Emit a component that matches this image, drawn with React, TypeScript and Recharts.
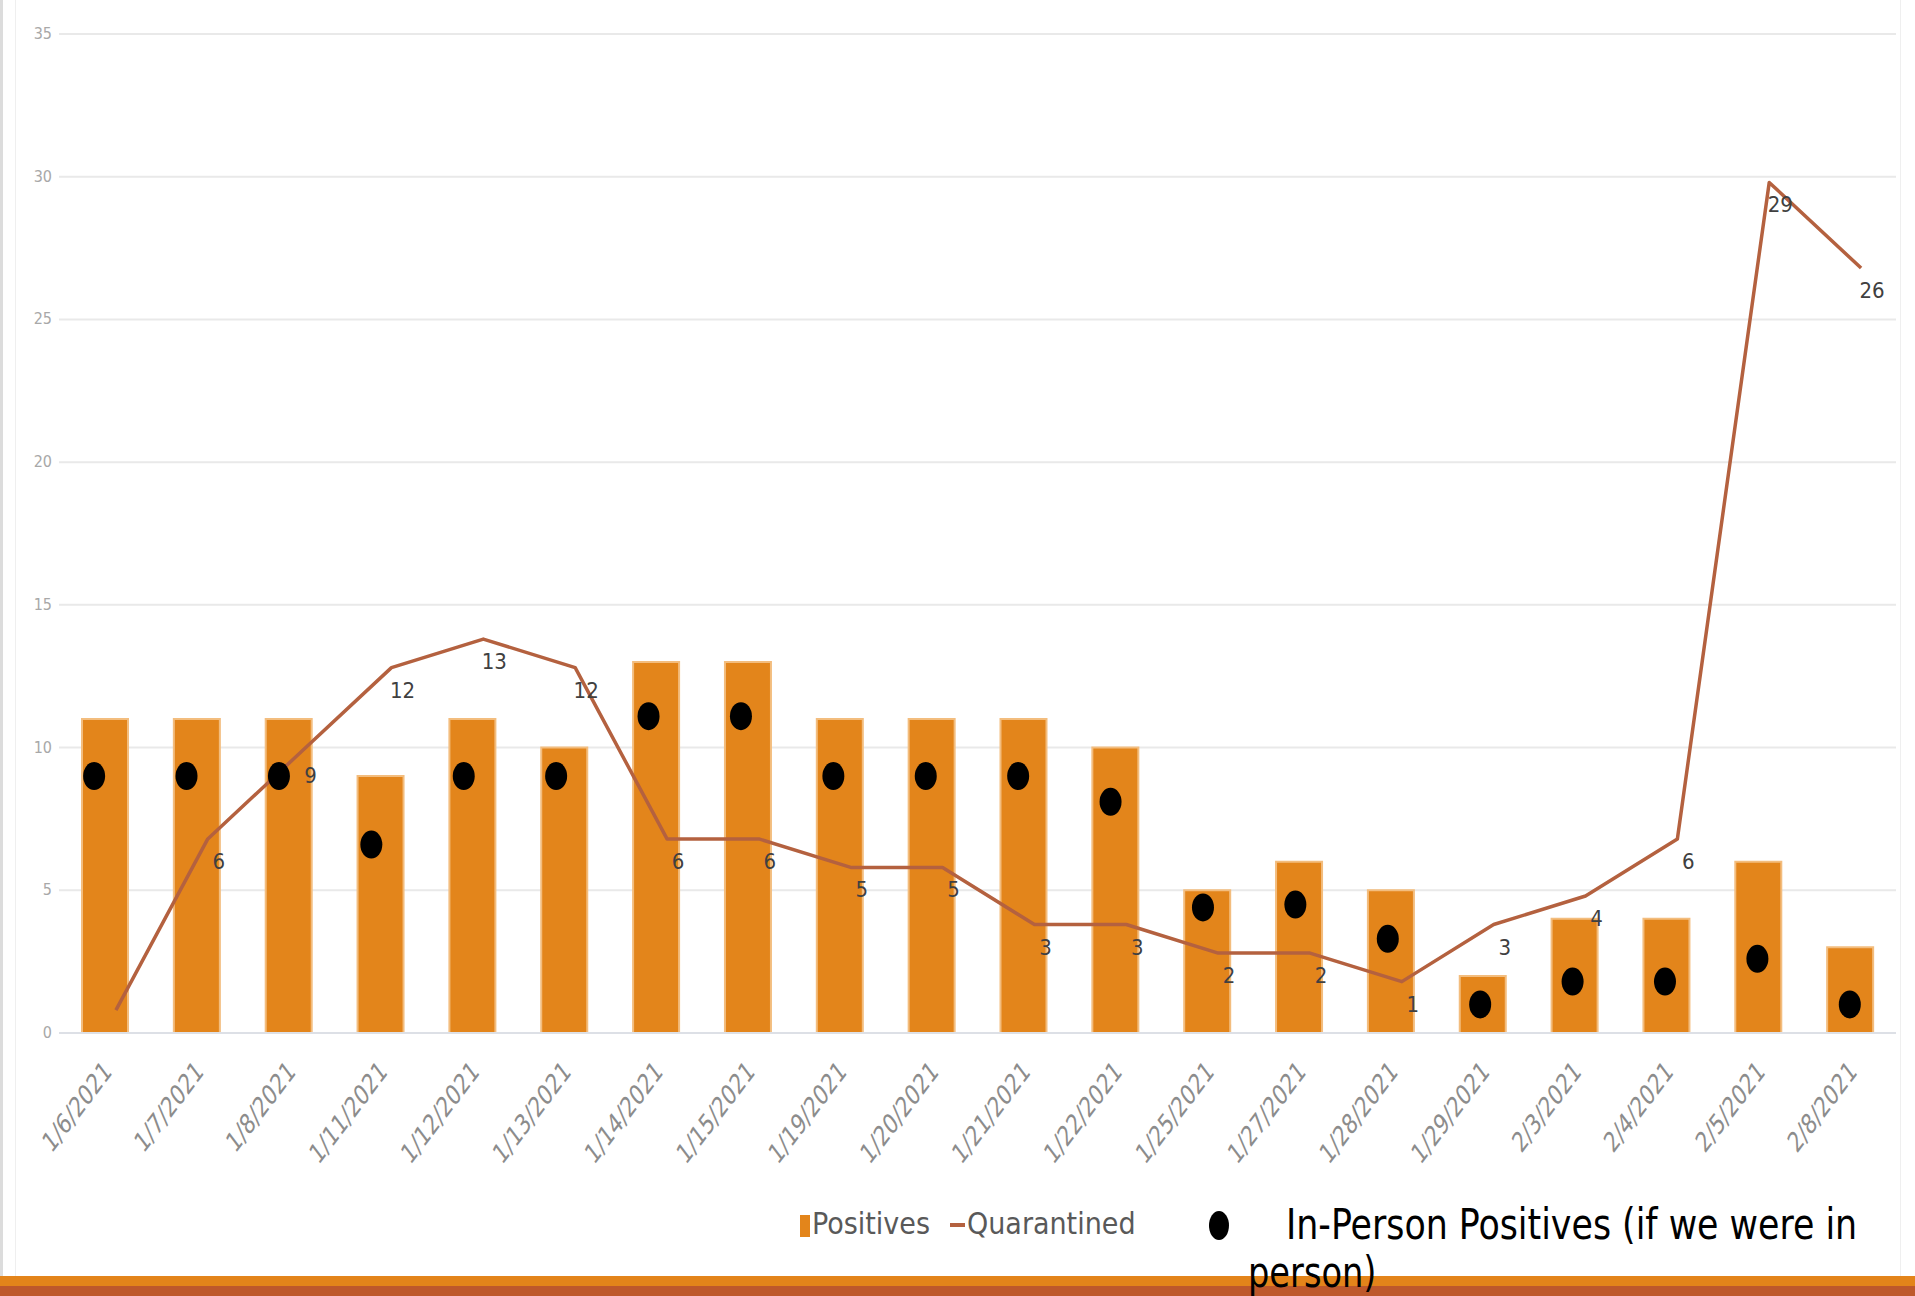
import React from 'react';
import {
  ComposedChart,
  Bar,
  Line,
  Scatter,
  XAxis,
  YAxis,
  CartesianGrid,
  LabelList,
} from 'recharts';

const dates = [
  '1/6/2021', '1/7/2021', '1/8/2021', '1/11/2021', '1/12/2021',
  '1/13/2021', '1/14/2021', '1/15/2021', '1/19/2021', '1/20/2021',
  '1/21/2021', '1/22/2021', '1/25/2021', '1/27/2021', '1/28/2021',
  '1/29/2021', '2/3/2021', '2/4/2021', '2/5/2021', '2/8/2021',
];
const positives = [11, 11, 11, 9, 11, 10, 13, 13, 11, 11, 11, 10, 5, 6, 5, 2, 4, 4, 6, 3];
const quarantined = [0, 6, 9, 12, 13, 12, 6, 6, 5, 5, 3, 3, 2, 2, 1, 3, 4, 6, 29, 26];
// hand-placed dots on the slide
const inPersonPositives = [9, 9, 9, 6.6, 9, 9, 11.1, 11.1, 9, 9, 9, 8.1, 4.4, 4.5, 3.3, 1, 1.8, 1.8, 2.6, 1];
const yTicks = [0, 5, 10, 15, 20, 25, 30, 35];

const data = dates.map((date, i) => ({
  date,
  positives: positives[i],
  quarantined: quarantined[i],
}));

// the dots were pasted over the chart with a slightly wider spacing than the bars
const dotData = inPersonPositives.map((v, i) => ({ slot: i, inPerson: v }));

const NARROW = "'DejaVu Sans Condensed', 'Liberation Sans', sans-serif";
const ORANGE = '#E3851B';
const BROWN = '#B4613F';

const XTick = ({ x, y, payload }: any) => (
  <g transform={`translate(${x + 8},${y + 32}) scale(1,1.32)`}>
    <text
      textAnchor="end"
      transform="rotate(-45)"
      fontSize={21.5}
      fill="#8c8c8c"
      fontFamily={NARROW}
    >
      {payload.value}
    </text>
  </g>
);

const YTick = ({ x, y, payload }: any) => (
  <text x={x} y={y} dy={5} textAnchor="end" fontSize={16} fill="#a8a8a8" fontFamily={NARROW}>
    {payload.value}
  </text>
);

const QuarantineLabel = ({ x, y, value }: any) => {
  if (!value) return null;
  return (
    <text
      x={x + 22}
      y={y + 23}
      dy={7}
      textAnchor="middle"
      fontSize={22}
      fill="#404040"
      fontFamily={NARROW}
    >
      {value}
    </text>
  );
};

const Dot = (props: any) => (
  <ellipse cx={props.cx} cy={props.cy} rx={11} ry={14} fill="#000" />
);

const textDiv = (extra: React.CSSProperties): React.CSSProperties => ({
  position: 'absolute',
  fontFamily: NARROW,
  whiteSpace: 'nowrap',
  transformOrigin: 'left center',
  ...extra,
});

export default function App() {
  return (
    <div
      style={{
        position: 'absolute',
        left: 0,
        top: 0,
        width: 1915,
        height: 1296,
        background: '#fff',
        overflow: 'hidden',
      }}
    >
      <style>{'.q-line { transform: translateX(11px); }'}</style>
      <div style={{ position: 'absolute', left: 0, top: 0, width: 3, height: 1276, background: '#dcdcdc' }} />
      <div style={{ position: 'absolute', left: 15, top: 0, width: 1, height: 1276, background: '#efefef' }} />
      <div style={{ position: 'absolute', left: 1900, top: 0, width: 1, height: 1276, background: '#efefef' }} />

      <div style={{ position: 'absolute', left: 0, top: 0 }}>
        <ComposedChart
          width={1915}
          height={1296}
          data={data}
          margin={{ top: 34, right: 19, bottom: 183, left: 14 }}
        >
          <CartesianGrid vertical={false} stroke="#e9e9e9" strokeWidth={2} />
          <XAxis
            dataKey="date"
            height={80}
            interval={0}
            tickLine={false}
            axisLine={{ stroke: '#dde0e6', strokeWidth: 2 }}
            tick={<XTick />}
          />
          <XAxis
            xAxisId="dots"
            type="number"
            dataKey="slot"
            domain={[-0.38, 19.5]}
            allowDataOverflow
            hide
          />
          <YAxis
            width={45}
            domain={[0, 35]}
            ticks={yTicks}
            axisLine={false}
            tickLine={false}
            tickMargin={1}
            tick={<YTick />}
          />
          <YAxis yAxisId="line" hide domain={[-0.8, 34.2]} />
          <Bar
            dataKey="positives"
            fill={ORANGE}
            stroke="#f3bd7e"
            strokeWidth={2}
            barSize={46}
            isAnimationActive={false}
          />
          <Line
            yAxisId="line"
            type="linear"
            dataKey="quarantined"
            stroke={BROWN}
            strokeWidth={3.5}
            strokeLinejoin="round"
            dot={false}
            className="q-line"
            isAnimationActive={false}
          >
            <LabelList dataKey="quarantined" content={<QuarantineLabel />} />
          </Line>
          <Scatter
            xAxisId="dots"
            data={dotData}
            dataKey="inPerson"
            shape={<Dot />}
            isAnimationActive={false}
          />
        </ComposedChart>
      </div>

      {/* legend */}
      <div style={{ position: 'absolute', left: 800, top: 1215, width: 10, height: 22, background: ORANGE }} />
      <div style={textDiv({ left: 812, top: 1204, fontSize: 30, color: '#595959', lineHeight: '40px' })}>
        Positives
      </div>
      <div style={{ position: 'absolute', left: 950, top: 1223, width: 15, height: 4, background: BROWN }} />
      <div style={textDiv({ left: 967, top: 1204, fontSize: 30, color: '#595959', lineHeight: '40px' })}>
        Quarantined
      </div>

      <div style={{ position: 'absolute', left: 0, top: 1276, width: 1915, height: 10, background: '#E3841A' }} />
      <div style={{ position: 'absolute', left: 0, top: 1286, width: 1915, height: 10, background: '#BE582B' }} />

      <div
        style={{
          position: 'absolute',
          left: 1209,
          top: 1211,
          width: 20,
          height: 29,
          borderRadius: '50%',
          background: '#000',
        }}
      />
      <div
        style={textDiv({
          left: 1286,
          top: 1196,
          fontSize: 43,
          color: '#000',
          lineHeight: '56px',
          transform: 'scaleX(0.9)',
        })}
      >
        In-Person Positives (if we were in
      </div>
      <div
        style={textDiv({
          left: 1248,
          top: 1244,
          fontSize: 43,
          color: '#000',
          lineHeight: '56px',
          transform: 'scaleX(0.87)',
        })}
      >
        person)
      </div>
    </div>
  );
}
